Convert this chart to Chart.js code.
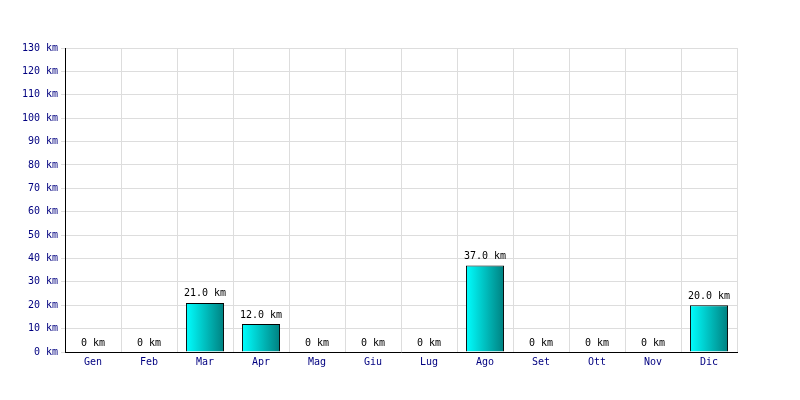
<!DOCTYPE html>
<html><head><meta charset="utf-8">
<script src="https://cdn.jsdelivr.net/npm/chart.js@4/dist/chart.umd.min.js"></script>
<style>html,body{margin:0;padding:0;background:#fff}#w{width:800px;height:400px}</style>
</head><body><div id="w"><canvas id="c"></canvas></div>
<script>
const months = ["Gen","Feb","Mar","Apr","Mag","Giu","Lug","Ago","Set","Ott","Nov","Dic"];
const km = [0,0,21,12,0,0,0,37,0,0,0,20];
const yMax = 130, yStep = 10;
const FONT = "'DejaVu Sans Mono', monospace";

function barGradient(ctx){
  const chart = ctx.chart;
  const xs = chart.scales.x;
  if (!xs || !chart.chartArea) return '#00cccc';
  const cw = xs.width / months.length;
  const bw = cw * 0.68;
  const cx = xs.getPixelForValue(ctx.dataIndex);
  const g = chart.ctx.createLinearGradient(cx - bw/2, 0, cx + bw/2, 0);
  g.addColorStop(0, '#00ffff');
  g.addColorStop(1, '#008080');
  return g;
}

const labelPlugin = {
  id: 'vals',
  afterDatasetsDraw(chart){
    const c = chart.ctx;
    const meta = chart.getDatasetMeta(0);
    c.save();
    c.font = "10px " + FONT;
    c.fillStyle = '#000';
    c.textAlign = 'center';
    c.textBaseline = 'bottom';
    meta.data.forEach((el, i) => {
      const v = km[i];
      const t = v === 0 ? '0 km' : v.toFixed(1) + ' km';
      c.fillText(t, el.x, el.y - 4);
    });
    c.restore();
  }
};

new Chart(document.getElementById('c'), {
  type: 'bar',
  data: { labels: months, datasets: [{ data: km, backgroundColor: barGradient, borderColor: '#000', borderWidth: 1, barPercentage: 0.68, categoryPercentage: 1 }] },
  options: {
    responsive: true, maintainAspectRatio: false, animation: false,
    layout: { padding: { left: 0, top: 48, right: 63, bottom: 0 } },
    plugins: { legend: { display: false }, tooltip: { enabled: false } },
    scales: {
      x: {
        offset: true,
        grid: { color: '#dddddd', offset: true, drawTicks: false },
        border: { color: '#000', width: 1 },
        ticks: { color: '#000080', font: { family: FONT, size: 10 }, padding: 4, maxRotation: 0 },
        afterFit(s){ s.height = 48; }
      },
      y: {
        min: 0, max: yMax,
        grid: { color: '#dddddd', tickLength: 4 },
        border: { color: '#000', width: 1 },
        ticks: { stepSize: yStep, color: '#000080', font: { family: FONT, size: 10 }, padding: 3, callback: v => v + ' km' },
        afterFit(s){ s.width = 65; }
      }
    }
  },
  plugins: [labelPlugin]
});
</script></body></html>
